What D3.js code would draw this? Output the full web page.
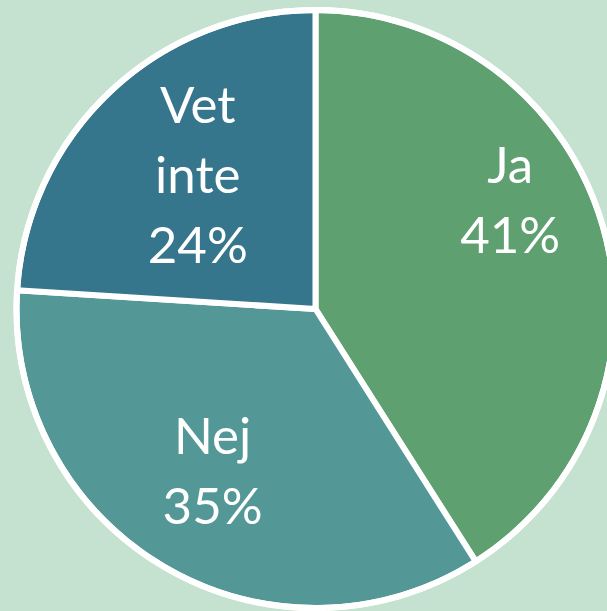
<!DOCTYPE html>
<html>
<head>
<meta charset="utf-8">
<script src="https://cdn.jsdelivr.net/npm/d3@7"></script>
<style>
  html, body { margin: 0; padding: 0; background: #c4e2cf; overflow: hidden; }
  svg { display: block; }
</style>
</head>
<body>
<svg width="607" height="611"></svg>
<script>
// survey answers, share in percent (clockwise from 12 o'clock)
var categories = ["Ja", "Nej", "Vet inte"];
var values = [41, 35, 24];
var colors = ["#5fa071", "#539896", "#36768d"];

var svg = d3.select("svg"),
    cx = 315.5,
    cy = 309,
    radius = 299;

// where each label block sits: angle (deg, clockwise from top) and distance from centre
var labelPlace = {
    "Ja": { angle: 60.8, dist: 223 },
    "Nej": { angle: 212.4, dist: 192 },
    "Vet inte": { angle: 318.6, dist: 178 }
};
var lineHeight = 70;

var data = categories.map(function (c, i) {
    return { name: c, value: values[i], color: colors[i] };
});

var pie = d3.pie()
    .sort(null)
    .value(function (d) { return d.value; });

var arc = d3.arc()
    .innerRadius(0)
    .outerRadius(radius);

var g = svg.append("g")
    .attr("transform", "translate(" + cx + "," + cy + ")");

g.selectAll(".slice")
    .data(pie(data))
    .enter().append("path")
    .attr("class", "slice")
    .attr("d", arc)
    .attr("fill", function (d) { return d.data.color; })
    .attr("stroke", "#fff")
    .attr("stroke-width", 6)
    .attr("stroke-linejoin", "round");

// white rim round the whole pie
g.append("circle")
    .attr("r", radius)
    .attr("fill", "none")
    .attr("stroke", "#fff")
    .attr("stroke-width", 6);

var labels = g.selectAll(".label")
    .data(pie(data))
    .enter().append("text")
    .attr("class", "label")
    .attr("transform", function (d) {
        var p = labelPlace[d.data.name],
            a = p.angle * Math.PI / 180;
        return "translate(" + (p.dist * Math.sin(a)) + "," + (-p.dist * Math.cos(a)) + ")";
    })
    .attr("text-anchor", "middle")
    .style("font-family", "Lato, 'Noto Sans', sans-serif")
    .style("font-size", "51px")
    .style("fill", "#fff");

labels.each(function (d) {
    var lines = d.data.name.split(" ").concat([d.data.value + "%"]),
        first = -(lines.length - 1) / 2 * lineHeight + 18;
    var t = d3.select(this);
    lines.forEach(function (l, i) {
        t.append("tspan")
            .attr("x", 0)
            .attr("y", first + i * lineHeight)
            .text(l);
    });
});
</script>
</body>
</html>
